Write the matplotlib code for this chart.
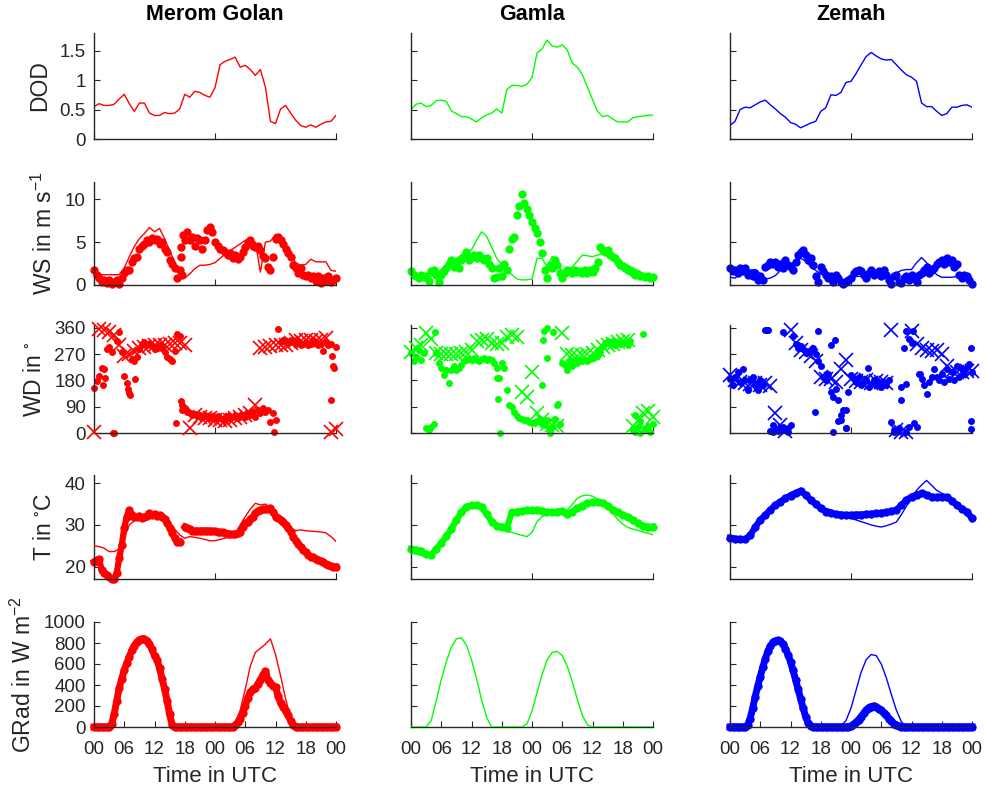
import numpy as np
import matplotlib
matplotlib.use('Agg')
import matplotlib.pyplot as plt

plt.rcParams['font.family'] = ['Liberation Sans', 'DejaVu Sans']
plt.rcParams['mathtext.default'] = 'regular'

# ---------------- data ----------------
stations = ['Merom Golan', 'Gamla', 'Zemah']
colors = ['#ff0000', '#00ff00', '#0000ff']
xtick_labels = ['00', '06', '12', '18', '00', '06', '12', '18', '00']
ylabels = ['DOD', r'WS in m s$^{-1}$', 'WD in $^{\circ}$', 'T in $^{\circ}$C', r'GRad in W m$^{-2}$']

hours = np.arange(0, 49)          # hourly model output (0-48 h)
half = np.arange(0, 97) * 0.5     # half-hourly observations (0-48 h)

# DOD (hourly)
dod_merom = [0.55, 0.60, 0.57, 0.57, 0.59, 0.68, 0.76, 0.60, 0.47, 0.61,
             0.61, 0.44, 0.40, 0.40, 0.45, 0.43, 0.44, 0.51, 0.76, 0.71,
             0.81, 0.79, 0.74, 0.71, 0.87, 1.26, 1.32, 1.35, 1.39, 1.22,
             1.25, 1.18, 1.08, 1.18, 0.88, 0.30, 0.26, 0.51, 0.57, 0.44,
             0.32, 0.23, 0.20, 0.24, 0.20, 0.25, 0.29, 0.30, 0.40]
dod_gamla = [0.50, 0.59, 0.61, 0.55, 0.57, 0.65, 0.66, 0.64, 0.48, 0.43,
             0.38, 0.38, 0.34, 0.29, 0.36, 0.41, 0.44, 0.51, 0.44, 0.84,
             0.91, 0.91, 0.89, 0.93, 1.04, 1.46, 1.53, 1.68, 1.58, 1.56,
             1.60, 1.51, 1.29, 1.22, 1.09, 0.88, 0.67, 0.47, 0.38, 0.40,
             0.34, 0.29, 0.29, 0.29, 0.36, 0.38, 0.39, 0.40, 0.41]
dod_zemah = [0.23, 0.30, 0.50, 0.54, 0.53, 0.58, 0.63, 0.66, 0.58, 0.51,
             0.43, 0.37, 0.28, 0.25, 0.19, 0.23, 0.27, 0.30, 0.47, 0.53,
             0.75, 0.74, 0.79, 0.96, 0.98, 1.11, 1.26, 1.40, 1.47, 1.41,
             1.36, 1.34, 1.35, 1.26, 1.17, 1.09, 1.05, 0.98, 0.61, 0.55,
             0.55, 0.47, 0.40, 0.43, 0.54, 0.54, 0.57, 0.58, 0.54]

# Wind speed: model (hourly) and observations (half-hourly)
ws_mod_merom = [1.3, 1.2, 1.2, 1.2, 1.2, 1.2, 2.0, 3.3, 4.5, 5.4,
                6.0, 6.7, 6.2, 6.6, 5.4, 4.0, 2.7, 1.4, 0.8, 1.3,
                1.9, 2.3, 2.3, 2.4, 2.6, 3.1, 3.6, 4.0, 4.4, 4.8,
                5.2, 5.1, 5.0, 1.5, 5.0, 5.1, 5.9, 5.5, 4.6, 3.5,
                2.6, 2.3, 2.4, 3.0, 2.7, 2.7, 2.7, 1.7, 1.6]
ws_obs_merom = [1.8, 1.2, 0.8, 0.4, 0.6, 0.2, 0.6, 0.15, 0.3, 0.6,
                0.15, 0.8, 1.4, 1.8, 1.8, 2.7, 3.1, 3.3, 4.25, 4.6,
                4.8, 5.2, 5.0, 5.5, 5.2, 5.4, 4.8, 5.0, 4.25, 3.9,
                2.9, 2.5, 2.0, 0.8, 1.8, 1.2, 5.2, 6.2, 5.2, 5.6,
                4.6, 5.5, 5.2, 4.25, 5.2, 6.4, 6.7, 6.2, 5.0, 4.6,
                4.25, 4.1, 3.9, 3.5, 3.75, 3.2, 3.5, 3.0, 3.3, 3.9,
                4.4, 5.0, 5.3, 4.6, 4.4, 4.6, 4.1, 3.4, 3.1, 2.1,
                1.8, 3.3, 5.4, 5.6, 5.3, 4.8, 4.25, 3.7, 3.3, 2.3,
                2.0, 1.4, 2.0, 1.2, 1.0, 1.2, 0.8, 1.0, 0.5, 1.0,
                0.25, 0.8, 0.5, 1.0, 0.4, 0.6, 0.8]
ws_mod_gamla = [1.0, 1.0, 1.0, 1.0, 1.0, 1.3, 1.8, 2.3, 2.6, 3.1,
                3.5, 3.9, 4.1, 5.2, 6.2, 5.7, 4.4, 3.1, 2.4, 1.8,
                1.2, 0.7, 0.6, 0.6, 0.7, 3.1, 3.1, 2.1, 3.3, 3.1,
                1.4, 1.7, 2.1, 2.8, 3.5, 3.4, 3.3, 3.5, 3.6, 3.5,
                3.2, 2.9, 2.6, 2.3, 2.0, 1.7, 1.3, 1.1, 1.0]
ws_obs_gamla = [1.6, 1.2, 1.0, 0.8, 1.2, 0.9, 1.0, 0.5, 1.6, 1.8,
                1.2, 0.4, 1.2, 1.6, 2.0, 2.5, 2.9, 2.1, 2.7, 2.0,
                2.9, 3.3, 3.9, 2.9, 3.3, 3.5, 3.2, 3.5, 3.2, 2.9,
                3.1, 2.5, 2.0, 0.8, 0.9, 2.0, 1.0, 2.5, 1.8, 4.25,
                5.4, 5.6, 8.1, 9.2, 10.6, 9.6, 8.9, 8.1, 7.3, 6.6,
                6.0, 5.0, 3.7, 1.8, 0.8, 2.3, 2.0, 2.9, 2.3, 1.4,
                0.8, 1.4, 1.8, 1.6, 1.4, 1.8, 1.5, 1.6, 1.4, 1.8,
                1.4, 1.8, 1.5, 2.0, 2.7, 4.4, 4.1, 3.9, 4.1, 3.5,
                3.3, 3.1, 2.7, 2.3, 2.2, 2.0, 1.8, 1.6, 1.4, 1.2,
                1.3, 1.1, 1.0, 0.9, 1.0, 0.8, 0.9]
ws_mod_zemah = [0.9, 0.8, 1.3, 1.5, 1.7, 1.8, 1.2, 0.7, 0.8, 1.1,
                1.7, 2.2, 2.5, 2.7, 3.1, 2.8, 2.1, 1.7, 1.3, 1.1,
                0.9, 0.7, 0.6, 0.7, 0.9, 1.0, 1.0, 1.0, 1.1, 1.3,
                1.2, 0.8, 0.9, 1.4, 1.7, 1.8, 1.8, 2.6, 3.2, 2.6,
                1.9, 1.2, 0.9, 0.9, 0.9, 1.0, 1.2, 0.9, 0.6]
ws_obs_zemah = [2.0, 1.6, 1.8, 1.4, 2.0, 1.6, 2.0, 1.2, 1.4, 1.0,
                1.4, 0.6, 1.0, 0.6, 2.1, 2.3, 2.7, 2.5, 2.7, 2.1,
                2.5, 2.0, 2.9, 2.3, 2.1, 1.8, 2.7, 3.5, 3.9, 4.1,
                3.5, 2.9, 3.1, 2.3, 1.0, 0.4, 2.1, 1.6, 1.2, 0.8,
                1.0, 0.3, 1.2, 0.8, 0.4, 0.15, 0.3, 0.6, 0.8, 1.4,
                1.6, 1.8, 1.6, 1.2, 0.8, 1.4, 1.8, 1.2, 1.4, 1.6,
                1.0, 1.8, 1.2, 0.6, 0.15, 1.0, 1.2, 0.4, 0.2, 0.8,
                1.0, 0.6, 1.2, 0.8, 0.4, 1.2, 1.4, 1.7, 2.1, 1.4,
                1.8, 2.0, 2.5, 2.7, 2.9, 2.5, 3.1, 2.7, 2.9, 2.1,
                2.5, 1.2, 0.8, 1.2, 1.0, 0.6, 0.15]
ws_extra_t_merom = [17.3, 17.3, 17.6]
ws_extra_v_merom = [3.3, 4.4, 5.8]

# Wind direction: model (hourly, crosses) and observations (half-hourly, dots)
wd_mod_merom = [5, 355, 352, 345, 335, 300, 265, 270, 280, 290,
                295, 298, 300, 300, 302, 305, 310, 310, 300, 18,
                60, 55, 50, 50, 45, 45, 40, 45, 50, 55,
                60, 70, 95, 290, 295, 298, 300, 302, 300, 310,
                320, 315, 320, 320, 315, 320, 325, 5, 15]
wd_obs_merom = [155, 178, 195, 224, 218, 288, 294, 276, 0, 315,
                346, 276, 195, 172, 137, 253, 247, 259, 288, 305,
                311, 300, 305, 297, 288, 294, 300, 294, 276, 259,
                253, 247, 282, 340, 334, 96, 85, 73, 67, 62,
                65, 58, 62, 56, 62, 56, 53, 58, 50, 58,
                50, 44, 53, 58, 50, 56, 62, 50, 58, 62,
                56, 67, 62, 73, 56, 79, 67, 85, 73, 79,
                38, 67, 44, 355, 311, 317, 314, 311, 320, 311,
                305, 314, 300, 305, 311, 300, 305, 317, 311, 300,
                305, 282, 311, 300, 305, 230, 294]
wd_extra_t_merom = [1.8, 2.2, 3.8, 16.3, 17.2, 17.4, 35.8, 47.0, 47.3, 47.6, 6.8, 7.2, 8.2]
wd_extra_v_merom = [165, 190, 0, 33, 110, 80, 4, 114, 265, 224, 150, 130, 185]

wd_mod_gamla = [278, 290, 300, 343, 322, 274, 272, 270, 270, 272,
                275, 278, 285, 315, 320, 322, 310, 305, 310, 330,
                335, 330, 140, 122, 210, 67, 44, 32, 26, 23,
                343, 270, 268, 265, 268, 270, 275, 285, 295, 300,
                305, 312, 315, 320, 25, 40, 70, 75, 55]
wd_obs_gamla = [274, 245, 262, 285, 251, 274, 18, 11, 21, 30,
                274, 239, 222, 199, 216, 172, 216, 228, 216, 222,
                233, 245, 251, 253, 251, 256, 251, 248, 253, 256,
                251, 253, 251, 241, 222, 187, 239, 222, 147, 95,
                90, 72, 57, 53, 49, 46, 44, 38, 34, 38,
                41, 49, 32, 26, 44, 9, 21, 49, 95, 32,
                241, 233, 216, 245, 228, 251, 239, 251, 245, 251,
                245, 253, 256, 262, 268, 279, 297, 308, 314, 308,
                314, 302, 308, 305, 310, 308, 300, 315, 10, 5,
                20, 0, 340, 15, 25, 5, 30]
wd_extra_t_gamla = [4.8, 17.6, 26.4, 27.0, 28.2, 26.9, 26.2, 25.9, 17.0, 17.2, 29.2, 27.6, 44.5, 45.5]
wd_extra_v_gamla = [345, 0, 350, 360, 345, 256, 317, 164, 187, 118, 98, 0, 60, 40]

wd_mod_zemah = [197, 180, 175, 170, 168, 172, 165, 170, 160, 67,
                28, 6, 354, 309, 285, 276, 265, 247, 191, 186,
                186, 174, 219, 250, 185, 178, 175, 180, 172, 178,
                175, 170, 354, 11, 5, 2, 349, 304, 290, 285,
                282, 285, 270, 231, 214, 210, 208, 212, 214]
wd_obs_zemah = [186, 163, 191, 208, 174, 219, 180, 146, 180, 191,
                169, 146, 180, 163, 354, 354, 6, 28, 17, 6,
                11, 22, 9, 17, 28, 332, 304, 292, 298, 287,
                281, 276, 281, 292, 270, 247, 231, 191, 180, 202,
                141, 124, 152, 112, 45, 79, 17, 141, 197, 186,
                174, 191, 163, 174, 180, 157, 169, 180, 163, 174,
                157, 174, 163, 180, 39, 11, 6, 17, 112, 292,
                349, 321, 309, 34, 22, 202, 186, 163, 135, 174,
                191, 219, 191, 180, 202, 174, 219, 186, 208, 180,
                231, 191, 219, 202, 225, 236, 208]
wd_extra_t_zemah = [47.8, 47.8, 47.8, 7.3, 10.5, 17.5, 16.8, 20.4, 20.8, 23.1, 23.1, 27.4, 33.9,
                    34.9, 36.3, 37.6, 8.5, 9.5, 11.5, 32.5, 35.0, 35.6, 13.5, 14.0, 15.0, 20.1, 21.5, 22.0]
wd_extra_v_zemah = [290, 13, 42, 354, 346, 349, 73, 2, 320, 17, 79, 223, 157,
                    169, 349, 202, 2, 14, 2, 3, 5, 20, 300, 290, 275, 300, 40, 60]

# Temperature
t_mod_merom = [25.0, 24.8, 24.4, 23.6, 23.6, 24.2, 27.0, 30.0, 31.0, 31.6,
               31.7, 31.8, 31.8, 31.8, 31.5, 30.8, 29.0, 27.6, 26.8, 27.2,
               27.0, 26.8, 26.5, 26.2, 26.2, 26.5, 26.8, 27.3, 28.0, 30.0,
               32.0, 33.8, 35.2, 34.8, 35.0, 34.3, 33.2, 31.8, 30.4, 29.4,
               28.6, 28.8, 28.6, 28.5, 28.4, 28.3, 28.1, 27.2, 26.0]
t_obs_merom = [21.2, 21.6, 21.8, 19.2, 18.4, 18.0, 17.4, 17.0, 17.0, 18.4,
               22.0, 25.2, 29.2, 32.0, 33.6, 32.4, 31.8, 31.8, 32.2, 31.6,
               32.0, 32.2, 32.8, 32.4, 32.6, 32.2, 32.4, 32.0, 31.4, 30.4,
               29.2, 28.0, 26.8, 25.8, 26.0, np.nan, 29.6, 29.2, 29.0, 28.6,
               28.6, 28.6, 28.6, 28.6, 28.6, 28.6, 28.6, 28.5, 28.5, 28.4,
               28.2, 28.2, 28.0, 27.9, 27.8, 27.8, 27.8, 28.0, 28.4, 29.6,
               30.4, 30.8, 31.4, 32.0, 32.8, 33.4, 33.6, 33.8, 33.8, 33.8,
               34.0, 33.0, 32.0, 31.6, 31.2, 30.6, 30.0, 29.2, 28.4, 27.2,
               26.2, 25.4, 24.6, 24.0, 23.4, 22.8, 22.4, 22.2, 21.9, 21.6,
               21.4, 21.0, 20.6, 20.4, 20.2, 20.0, 20.0]
t_mod_gamla = [23.2, 23.0, 22.7, 22.3, 23.0, 24.4, 26.0, 27.8, 29.3, 31.0,
               32.8, 34.0, 34.8, 34.6, 33.6, 32.0, 30.0, 29.3, 28.9, 28.5,
               28.2, 27.8, 27.5, 27.2, 28.2, 30.8, 32.0, 32.4, 32.6, 32.8,
               33.2, 33.6, 35.0, 36.4, 37.0, 37.2, 36.9, 36.2, 35.3, 34.2,
               32.8, 31.3, 30.2, 29.4, 29.0, 28.7, 28.3, 28.0, 27.6]
t_obs_gamla = [24.2, 24.0, 23.8, 23.0, 22.8, 24.2, 25.6, 27.3, 29.0, 31.2,
               33.0, 34.4, 34.7, 34.8, 34.2, 32.6, 30.8, 29.8, 29.6, 29.3,
               33.0, 33.2, 33.4, 33.5, 33.5, 33.6, 33.4, 33.0, 33.0, 33.2,
               33.4, 32.6, 33.2, 34.0, 34.6, 35.2, 35.4, 35.5, 35.3, 34.6,
               33.7, 33.0, 32.4, 31.8, 31.2, 30.4, 29.8, 29.5, 29.6]
t_mod_zemah = [26.4, 26.4, 26.5, 26.8, 28.0, 29.6, 31.2, 32.5, 33.8, 35.0,
               36.0, 37.0, 37.8, 38.3, 38.8, 37.4, 36.0, 35.2, 34.6, 34.0,
               33.6, 33.1, 32.6, 32.1, 31.6, 31.2, 30.8, 30.4, 30.0, 29.7,
               29.5, 29.8, 30.2, 30.7, 32.5, 34.5, 36.5, 38.3, 39.6, 40.7,
               39.5, 38.3, 37.6, 37.0, 36.0, 35.0, 33.6, 32.2, 30.7]
t_obs_zemah = [26.9, 26.7, 26.6, 26.5, 27.5, 29.5, 31.2, 32.4, 33.6, 34.8,
               35.6, 36.4, 37.0, 37.6, 38.2, 37.2, 36.0, 35.0, 34.0, 33.2,
               32.8, 32.6, 32.5, 32.4, 32.4, 32.5, 32.5, 32.6, 32.7, 32.8,
               32.9, 33.1, 33.3, 33.6, 34.8, 36.0, 36.8, 37.3, 37.6, 37.2,
               36.8, 36.7, 36.8, 36.7, 35.8, 34.8, 33.9, 33.1, 31.7]

# Global radiation
grad_mod_merom = [0, 0, 0, 0, 100, 350, 540, 680, 780, 830,
                  840, 800, 690, 540, 350, 150, 10, 0, 0, 0,
                  0, 0, 0, 0, 0, 0, 0, 0, 40, 160,
                  360, 580, 710, 750, 790, 840, 690, 490, 270, 90,
                  0, 0, 0, 0, 0, 0, 0, 0, 0]
grad_obs_merom = [0, 0, 0, 0, 0, 0, 0, 30, 120, 250,
                  370, 460, 540, 610, 670, 730, 775, 810, 830, 840,
                  838, 820, 790, 740, 680, 640, 560, 460, 360, 250,
                  120, 20, 0, 0, 0, 0, 0, 0, 0, 0,
                  0, 0, 0, 0, 0, 0, 0, 0, 0, 0,
                  0, 0, 0, 0, 0, 0, 15, 45, 80, 130,
                  200, 280, 330, 360, 370, 410, 450, 495, 530, 450,
                  420, 395, 380, 300, 230, 190, 150, 110, 60, 15,
                  0, 0, 0, 0, 0, 0, 0, 0, 0, 0,
                  0, 0, 0, 0, 0, 0, 0]
grad_mod_gamla = [0, 0, 0, 0, 60, 250, 450, 620, 760, 840,
                  850, 780, 640, 460, 260, 90, 0, 0, 0, 0,
                  0, 0, 0, 30, 150, 330, 500, 640, 710, 720,
                  680, 580, 430, 260, 110, 20, 0, 0, 0, 0,
                  0, 0, 0, 0, 0, 0, 0, 0, 0]
grad_mod_zemah = [0, 0, 0, 0, 80, 290, 480, 650, 770, 820,
                  815, 745, 620, 450, 270, 100, 5, 0, 0, 0,
                  0, 0, 10, 60, 180, 350, 520, 640, 690, 680,
                  600, 470, 310, 160, 50, 0, 0, 0, 0, 0,
                  0, 0, 0, 0, 0, 0, 0, 0, 0]
grad_obs_zemah = [0, 0, 0, 0, 0, 0, 0, 20, 80, 180,
                  290, 390, 480, 570, 650, 720, 770, 805, 820, 825,
                  815, 790, 745, 690, 620, 540, 450, 360, 270, 180,
                  100, 40, 5, 0, 0, 0, 0, 0, 0, 0,
                  0, 0, 0, 0, 0, 0, 0, 0, 10, 25,
                  45, 70, 100, 130, 160, 185, 195, 200, 190, 175,
                  160, 135, 110, 80, 55, 30, 15, 5, 0, 0,
                  0, 0, 0, 0, 0, 0, 0, 0, 0, 0,
                  0, 0, 0, 0, 0, 0, 0, 0, 0, 0,
                  0, 0, 0, 0, 0, 0, 0]

dod = [dod_merom, dod_gamla, dod_zemah]
ws_mod = [ws_mod_merom, ws_mod_gamla, ws_mod_zemah]
ws_obs = [ws_obs_merom, ws_obs_gamla, ws_obs_zemah]
wd_mod = [wd_mod_merom, wd_mod_gamla, wd_mod_zemah]
wd_obs = [wd_obs_merom, wd_obs_gamla, wd_obs_zemah]
wd_extra_t = [wd_extra_t_merom, wd_extra_t_gamla, wd_extra_t_zemah]
wd_extra_v = [wd_extra_v_merom, wd_extra_v_gamla, wd_extra_v_zemah]
t_mod = [t_mod_merom, t_mod_gamla, t_mod_zemah]
t_obs = [(half, t_obs_merom), (hours, t_obs_gamla), (hours, t_obs_zemah)]
grad_mod = [grad_mod_merom, grad_mod_gamla, grad_mod_zemah]
grad_obs = [(half, grad_obs_merom), None, (half, grad_obs_zemah)]

# ---------------- layout ----------------
W, H = 986, 790
fig = plt.figure(figsize=(W / 100, H / 100), dpi=100)
col_left = [94, 411, 730]
col_w = 242
row_px = [(33, 139), (182, 285), (325, 433), (475, 579), (622, 727)]
ylims = [(0, 1.8), (0, 12), (0, 370), (17, 42), (0, 1000)]
yticks = [[0, 0.5, 1, 1.5], [0, 5, 10], [0, 90, 180, 270, 360], [20, 30, 40],
          [0, 200, 400, 600, 800, 1000]]
ytl = [['0', '0.5', '1', '1.5'], None, None, None, None]
dark = '#262626'

for r in range(5):
    top, bot = row_px[r]
    for c in range(3):
        ax = fig.add_axes([col_left[c] / W, 1 - bot / H, col_w / W, (bot - top) / H])
        col = colors[c]
        if r == 0:
            ax.plot(hours, dod[c], color=col, lw=1.0)
        elif r == 1:
            ax.plot(half, ws_obs[c], 'o', color=col, ms=6, mec='none', clip_on=False)
            if c == 0:
                ax.plot(ws_extra_t_merom, ws_extra_v_merom, 'o', color=col, ms=6, mec='none')
            ax.plot(hours, ws_mod[c], color=col, lw=1.0, zorder=3)
        elif r == 2:
            ax.plot(half, wd_obs[c], 'o', color=col, ms=5, mec='none', clip_on=False)
            ax.plot(wd_extra_t[c], wd_extra_v[c], 'o', color=col, ms=5, mec='none', clip_on=False)
            ax.plot(hours, wd_mod[c], 'x', color=col, ms=10, mew=1.2, clip_on=False, zorder=3)
        elif r == 3:
            tt, vv = t_obs[c]
            ax.plot(tt, vv, '-o', color=col, lw=4.5, ms=6, mec='none', clip_on=False)
            ax.plot(hours, t_mod[c], color=col, lw=1.0, zorder=3)
        else:
            if grad_obs[c] is not None:
                tt, vv = grad_obs[c]
                ax.plot(tt, vv, '-o', color=col, lw=5, ms=6, mec='none', clip_on=False)
            ax.plot(hours, grad_mod[c], color=col, lw=1.0, zorder=3)

        ax.set_xlim(0, 48)
        ax.set_ylim(*ylims[r])
        ax.set_yticks(yticks[r])
        if ytl[r] is not None:
            ax.set_yticklabels(ytl[r])
        if r == 4:
            ax.set_xticks(np.arange(0, 49, 6))
            ax.set_xticklabels(xtick_labels)
        else:
            ax.set_xticks([0, 24, 48])
            ax.set_xticklabels([])
        for s in ['top', 'right']:
            ax.spines[s].set_visible(False)
        for s in ['left', 'bottom']:
            ax.spines[s].set_color(dark)
            ax.spines[s].set_linewidth(1.0)
        ax.tick_params(direction='in', length=4, width=0.8, colors=dark, labelsize=13.5)
        ax.tick_params(axis='y', pad=6)
        ax.tick_params(axis='x', pad=10)
        if c > 0:
            ax.tick_params(axis='y', labelleft=False)
        else:
            ax.set_ylabel(ylabels[r], fontsize=16.5, color=dark, labelpad=6)
        if r == 0:
            ax.set_title(stations[c], fontsize=15.5, fontweight='bold', pad=9)
        if r == 4:
            ax.set_xlabel('Time in UTC', fontsize=16, color=dark, labelpad=6)

fig.savefig('out.png', dpi=100)
